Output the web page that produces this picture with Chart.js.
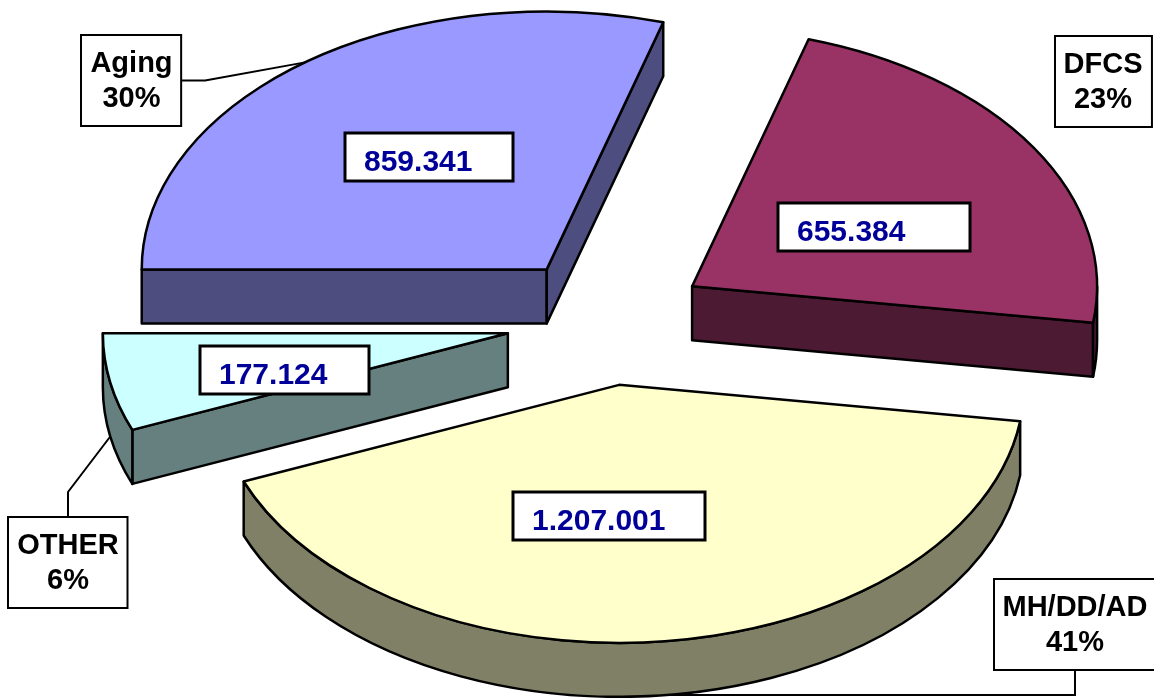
<!DOCTYPE html>
<html>
<head>
<meta charset="utf-8">
<script src="https://cdn.jsdelivr.net/npm/chart.js@4.4.1/dist/chart.umd.min.js"></script>
<style>
  html, body { margin: 0; padding: 0; background: #fff; overflow: hidden; }
  #wrap { width: 1154px; height: 698px; position: relative; }
</style>
</head>
<body>
<div id="wrap"><canvas id="c" width="1154" height="698"></canvas></div>
<script>
// data
const categories = ['Aging', 'DFCS', 'MH/DD/AD', 'OTHER'];
const values = [859341, 655384, 1207001, 177124];
const valueLabels = ['859.341', '655.384', '1.207.001', '177.124'];
const percentLabels = ['30%', '23%', '41%', '6%'];
const topColors = ['#9999FF', '#993366', '#FFFFCC', '#CCFFFF'];
const sideColors = ['#4D4D80', '#4D1A33', '#808066', '#668080'];

// layout of the fake 3D pie
const CX = 607, CY = 321;   // centre of the top face before exploding
const RADIUS = 405;         // horizontal radius
const TILT = 0.637;         // vertical squash of the ellipse
const DEPTH = 54;           // slab thickness
const EXPLODE = 101;        // distance each slice is pulled out

// label boxes
const valueBoxW = [168, 192, 192, 169];
const valueNudge = [[3, -8.5], [11, 10.5], [-34.5, 3], [-24.5, 12]];
const catBoxCenter = [[131.5, 80.5], [1103, 81.5], [1075, 624.5], [68, 562]];
const catLeader = ['right', null, 'bottom', 'top'];

const VALUE_FONT = 'bold 30px "Liberation Sans", Arial, Helvetica, sans-serif';
const CAT_FONT = 'bold 29px "Liberation Sans", Arial, Helvetica, sans-serif';

function apexOf(el) {
    const m = (el.startAngle + el.endAngle) / 2;
    return { x: CX + EXPLODE * Math.cos(m), y: CY + TILT * EXPLODE * Math.sin(m), m };
}

function drawSlab(ctx, el, i) {
    const a = apexOf(el);
    const R = el.outerRadius, RY = R * TILT;
    const s = el.startAngle, e = el.endAngle;
    const rim = t => ({ x: a.x + R * Math.cos(t), y: a.y + RY * Math.sin(t) });

    ctx.save();
    ctx.fillStyle = sideColors[i];
    ctx.strokeStyle = '#000';
    ctx.lineWidth = 2.5;
    ctx.lineJoin = 'round';

    // radial walls that face the viewer
    const wall = t => {
        const p = rim(t);
        ctx.beginPath();
        ctx.moveTo(a.x, a.y);
        ctx.lineTo(p.x, p.y);
        ctx.lineTo(p.x, p.y + DEPTH);
        ctx.lineTo(a.x, a.y + DEPTH);
        ctx.closePath();
        ctx.fill();
        ctx.stroke();
    };
    if (Math.cos(s) < 0) wall(s);
    if (Math.cos(e) > 0) wall(e);

    // curved outer wall, front half only
    const a0 = Math.max(s, 0), a1 = Math.min(e, Math.PI);
    if (a1 > a0) {
        ctx.beginPath();
        ctx.ellipse(a.x, a.y, R, RY, 0, a0, a1, false);
        ctx.ellipse(a.x, a.y + DEPTH, R, RY, 0, a1, a0, true);
        ctx.closePath();
        ctx.fill();
        ctx.stroke();
    }

    // top face: the library's own arc, squashed into the ellipse
    ctx.save();
    ctx.setTransform(1, 0, 0, TILT, a.x - el.x, a.y - TILT * el.y);
    el.draw(ctx);
    ctx.restore();

    ctx.beginPath();
    ctx.moveTo(a.x, a.y);
    ctx.ellipse(a.x, a.y, R, RY, 0, s, e, false);
    ctx.closePath();
    ctx.stroke();
    ctx.restore();
}

function drawLabels(ctx, arcs) {
    ctx.save();
    ctx.strokeStyle = '#000';
    ctx.textBaseline = 'alphabetic';

    arcs.forEach((el, i) => {
        const a = apexOf(el);
        const R = el.outerRadius, RY = R * TILT;

        // value box inside the slice
        const vx = a.x + R / 2 * Math.cos(a.m) + valueNudge[i][0];
        const vy = a.y + RY / 2 * Math.sin(a.m) + valueNudge[i][1];
        const w = valueBoxW[i], h = 48;
        const bx = Math.round(vx - w / 2), by = Math.round(vy - h / 2);
        ctx.lineWidth = 3;
        ctx.fillStyle = '#fff';
        ctx.fillRect(bx, by, w, h);
        ctx.strokeRect(bx, by, w, h);
        ctx.font = VALUE_FONT;
        ctx.fillStyle = '#000099';
        ctx.textAlign = 'left';
        ctx.fillText(valueLabels[i], bx + 19, by + 38);

        // category box with leader line
        ctx.font = CAT_FONT;
        ctx.lineWidth = 2;
        const [cx, cy] = catBoxCenter[i];
        const cw = Math.max(ctx.measureText(categories[i]).width, ctx.measureText(percentLabels[i]).width) + 18;
        const ch = 91;
        const left = Math.round(cx - cw / 2), top = Math.round(cy - ch / 2);

        const side = catLeader[i];
        if (side) {
            let tx = a.x + R * Math.cos(a.m), ty = a.y + RY * Math.sin(a.m);
            if (Math.sin(a.m) > 0) ty += DEPTH;
            let sx, sy, ex, ey;
            if (side === 'right') { sx = left + cw; sy = cy; ex = sx + 24; ey = sy; }
            if (side === 'top') { sx = cx; sy = top; ex = sx; ey = sy - 25; }
            if (side === 'bottom') { sx = cx; sy = top + ch; ex = sx; ey = ty; }
            ctx.beginPath();
            ctx.moveTo(sx, sy);
            ctx.lineTo(ex, ey);
            ctx.lineTo(tx, ty);
            ctx.stroke();
        }

        ctx.fillStyle = '#fff';
        ctx.fillRect(left, top, cw, ch);
        ctx.strokeRect(left, top, cw, ch);
        ctx.fillStyle = '#000';
        ctx.textAlign = 'center';
        ctx.fillText(categories[i], cx, top + 37);
        ctx.fillText(percentLabels[i], cx, top + 72);
    });
    ctx.restore();
}

const slab3d = {
    id: 'slab3d',
    beforeDatasetsDraw(chart) {
        const ctx = chart.ctx;
        const arcs = chart.getDatasetMeta(0).data;
        // back slices first
        const order = arcs.map((el, i) => i).sort((p, q) => apexOf(arcs[p]).y - apexOf(arcs[q]).y);
        for (const i of order) drawSlab(ctx, arcs[i], i);
        return false;
    },
    afterDraw(chart) {
        drawLabels(chart.ctx, chart.getDatasetMeta(0).data);
    }
};

new Chart(document.getElementById('c'), {
    type: 'pie',
    data: {
        labels: categories,
        datasets: [{
            data: values,
            backgroundColor: topColors,
            borderWidth: 0,
            clip: false
        }]
    },
    options: {
        responsive: false,
        devicePixelRatio: 1,
        animation: false,
        events: [],
        radius: RADIUS,
        rotation: -90,
        layout: { padding: 0 },
        plugins: { legend: { display: false }, tooltip: { enabled: false } }
    },
    plugins: [slab3d]
});
</script>
</body>
</html>
